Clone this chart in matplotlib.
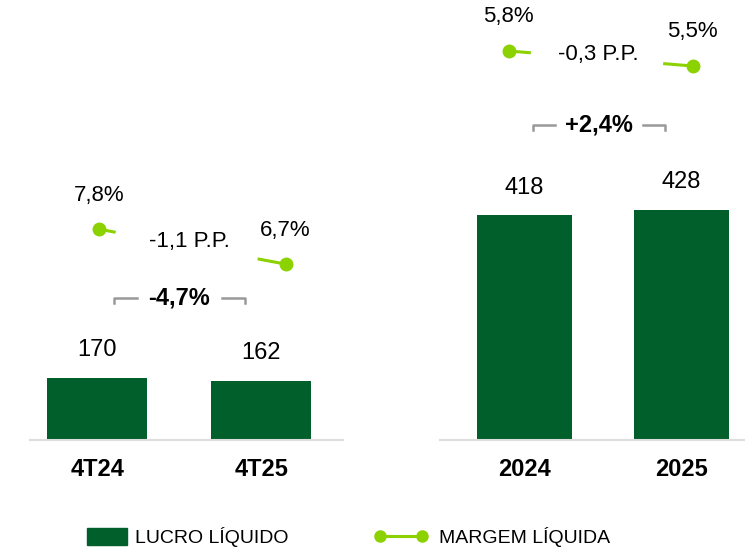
import numpy as np
import matplotlib
matplotlib.use('Agg')
import matplotlib.pyplot as plt
import matplotlib.transforms as mtransforms
from matplotlib.lines import Line2D
from matplotlib.patches import Patch

plt.rcParams['font.family'] = ['Liberation Sans', 'DejaVu Sans']

# data
quarters = ['4T24', '4T25']
lucro_q = [170, 162]
margem_q = [7.8, 6.7]
var_lucro_q = '-4,7%'
var_margem_q = '-1,1 P.P.'

years = ['2024', '2025']
lucro_y = [418, 428]
margem_y = [5.8, 5.5]
var_lucro_y = '+2,4%'
var_margem_y = '-0,3 P.P.'

GREEN = '#005F2A'
LIME = '#8CD200'
GRAY = '#999999'

W, H = 745, 548
fig = plt.figure(figsize=(W / 100, H / 100), dpi=100)


def px_axes(x0, x1, ytop, ybot):
    return fig.add_axes([x0 / W, 1 - ybot / H, (x1 - x0) / W, (ybot - ytop) / H])


def panel(ax, cats, lucro, margem, var_l, var_m, xlim, ylim, mlim, moff, bw,
          bracket_y, bracket_x, cut, pp_dy):
    x = np.arange(len(cats))
    ax.bar(x, lucro, width=bw, color=GREEN, zorder=2)
    ax.set_xlim(*xlim)
    ax.set_ylim(*ylim)
    for xi, v in zip(x, lucro):
        ax.annotate(str(v), (xi, v), xytext=(0, 12), textcoords='offset points',
                    ha='center', va='bottom', fontsize=17, color='black')
    ax.set_xticks(x)
    ax.set_xticklabels(cats, fontsize=17, fontweight='bold')
    ax.tick_params(axis='x', length=0, pad=13)
    ax.set_yticks([])
    for s in ['top', 'right', 'left']:
        ax.spines[s].set_visible(False)
    ax.spines['bottom'].set_color('#dddddd')
    ax.spines['bottom'].set_linewidth(1.5)

    # bracket for variation of lucro
    tr = mtransforms.blended_transform_factory(ax.transData, ax.transAxes)
    xa, xb = bracket_x
    seg = 0.14
    ax.plot([xa, xa, xa + seg], [bracket_y - 0.012, bracket_y, bracket_y],
            color=GRAY, lw=1.8, transform=tr, clip_on=False)
    ax.plot([xb - seg, xb, xb], [bracket_y, bracket_y, bracket_y - 0.012],
            color=GRAY, lw=1.8, transform=tr, clip_on=False)
    ax.text((xa + xb) / 2, bracket_y, var_l, transform=tr, ha='center',
            va='center', fontsize=17, fontweight='bold')

    # margem on twin axis
    ax2 = ax.twinx()
    ax2.set_ylim(*mlim)
    ax2.set_yticks([])
    for s in ax2.spines.values():
        s.set_visible(False)
    mx = x + np.array(moff)
    ax2.plot(mx, margem, 'o', color=LIME, ms=9, zorder=3)
    # line interrupted by the P.P. label
    c0, c1 = cut
    for a, b in [(0, c0), (c1, 1)]:
        ax2.plot([mx[0] + a * (mx[1] - mx[0]), mx[0] + b * (mx[1] - mx[0])],
                 [margem[0] + a * (margem[1] - margem[0]),
                  margem[0] + b * (margem[1] - margem[0])],
                 color=LIME, lw=2.2, solid_capstyle='butt')
    for xi, v in zip(mx, margem):
        ax2.annotate(f'{v:.1f}%'.replace('.', ','), (xi, v), xytext=(0, 17),
                     textcoords='offset points', ha='center', va='bottom',
                     fontsize=16)
    ax2.annotate(var_m, (np.mean(mx), np.mean(margem)), xytext=(-2, pp_dy),
                 textcoords='offset points', ha='center', va='center',
                 fontsize=16)


axL = px_axes(30, 343, 10, 440)
panel(axL, quarters, lucro_q, margem_q, var_lucro_q, var_margem_q,
      xlim=(-0.41, 1.5), ylim=(0, 1180), mlim=(1.17, 14.69), moff=[0.01, 0.15],
      bw=0.61, bracket_y=(440 - 298) / 430, bracket_x=(0.1, 0.9), cut=(0.09, 0.85),
      pp_dy=4)

axR = px_axes(440, 745, 10, 440)
panel(axR, years, lucro_y, margem_y, var_lucro_y, var_margem_y,
      xlim=(-0.538, 1.404), ylim=(0, 800), mlim=(-1.98, 6.62), moff=[-0.1, 0.07],
      bw=0.605, bracket_y=(440 - 125) / 430, bracket_x=(0.055, 0.895), cut=(0.12, 0.84),
      pp_dy=3)

leg_y = 1 - 537 / H
fig.legend([Patch(color=GREEN)], ['LUCRO LÍQUIDO'], loc='center left',
           bbox_to_anchor=(87 / W, leg_y), frameon=False, fontsize=14,
           handlelength=2.06, handleheight=0.95, handletextpad=0.4,
           borderpad=0, borderaxespad=0)
fig.legend([Line2D([0], [0], color=LIME, lw=2.2, marker='o', ms=8)],
           ['MARGEM LÍQUIDA'], loc='center left', numpoints=2,
           bbox_to_anchor=(374 / W, leg_y), frameon=False, fontsize=14,
           handlelength=2.75, handletextpad=0.6, borderpad=0, borderaxespad=0)

fig.savefig('out.png', dpi=100)
